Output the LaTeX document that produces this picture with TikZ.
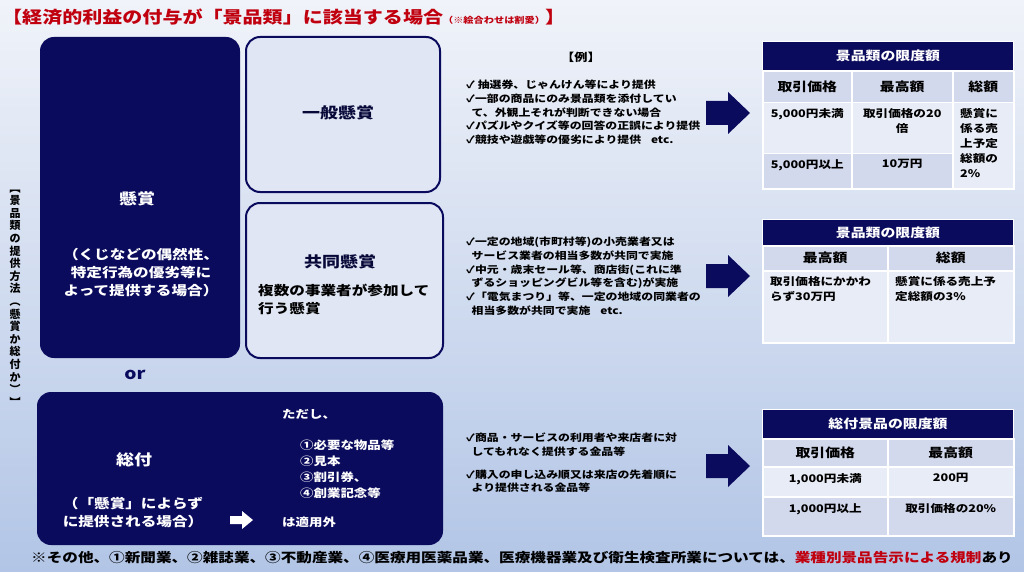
\documentclass[tikz,border=0pt]{standalone}
\usepackage{fontspec}
\setmainfont[FakeStretch=1.2]{Noto Sans CJK JP}
\newfontfamily\uprightcjk{Noto Sans CJK JP}
\definecolor{navy}{HTML}{0B0B5E}
\definecolor{pale}{HTML}{E0E6F3}
\definecolor{cellA}{HTML}{D3D9EC}
\definecolor{cellB}{HTML}{E8ECF6}
\definecolor{bgtop}{HTML}{F0F3F9}
\definecolor{bgbot}{HTML}{B2C5E6}
\definecolor{titlered}{HTML}{C0000F}
\newcommand{\bigarrow}[3][navy]{%
  \fill[#1] (#2-22,#3-12) -- (#2,#3-12) -- (#2,#3-21) -- (#2+22,#3) -- (#2,#3+21) -- (#2,#3+12) -- (#2-22,#3+12) -- cycle;}
\tikzset{
  darkbox/.style={fill=navy, rounded corners=14pt, draw=none},
  palebox/.style={fill=pale, draw=navy, line width=2pt, rounded corners=14pt},
  head/.style={fill=navy, draw=white, line width=1pt, text=white, font=\bfseries\fontsize{12.4}{14}\selectfont, anchor=north west, inner sep=0pt},
  cell/.style={fill=#1, draw=white, line width=1.5pt, anchor=north west, inner sep=0pt},
  cell/.default=cellA,
  txt/.style={font=\bfseries\fontsize{10.5}{15}\selectfont, align=left, anchor=north west, inner sep=0pt},
  list/.style={font=\bfseries\fontsize{9.9}{13.7}\selectfont, align=left, anchor=north west, inner sep=0pt},
  colhead/.style={font=\bfseries\fontsize{12.4}{14}\selectfont}
}
\begin{document}
\begin{tikzpicture}[x=1pt,y=-1pt]
\shade[top color=bgtop, bottom color=bgbot] (0,0) rectangle (1024,572);
\useasboundingbox (0,0) rectangle (1024,572);

% title
\node[anchor=west, text=titlered, font=\bfseries\fontsize{16.7}{20}\selectfont, inner sep=0pt] (title) at (2,17)
  {【経済的利益の付与が「景品類」に該当する場合{\fontsize{8.5}{10}\selectfont（※絵合わせは割愛）}】};

% vertical label
\node[font=\uprightcjk\bfseries\fontsize{11}{12.6}\selectfont, align=center, inner sep=0pt] (side) at (15,298)
  {︻\\景\\品\\類\\の\\提\\供\\方\\法\\︵\\懸\\賞\\か\\総\\付\\か\\︶\\︼};

% left boxes
\draw[darkbox] (40,37) rectangle (240,358);
\node[text=white, font=\bfseries\fontsize{15}{16}\selectfont] (kensho) at (137,199) {懸賞};
\node[text=white, font=\bfseries\fontsize{13}{18}\selectfont, align=center] (kenshoNote) at (141,273)
  {（くじなどの偶然性、\\特定行為の優劣等に\\よって提供する場合）};
\draw[palebox] (246,37) rectangle (440,192);
\node[text=navy!60!black, font=\bfseries\fontsize{15}{16}\selectfont] (ippan) at (338,113) {一般懸賞};
\draw[palebox] (246,203) rectangle (443,358);
\node[text=navy!60!black, font=\bfseries\fontsize{15}{16}\selectfont] (kyodo) at (340,262) {共同懸賞};
\node[font=\bfseries\fontsize{13}{18}\selectfont, align=left, anchor=north west, inner sep=0pt] (kyodoNote) at (258,284)
  {複数の事業者が参加して\\行う懸賞};
\node[text=navy, font=\bfseries\fontsize{16}{16}\selectfont] (or) at (135,375) {or};

\draw[darkbox] (37,392) rectangle (443,545);
\node[text=white, font=\bfseries\fontsize{15}{16}\selectfont] (sotsuke) at (134,460) {総付};
\node[text=white, font=\bfseries\fontsize{13}{18}\selectfont, align=center] (sotsukeNote) at (133,513)
  {（「懸賞」によらず\\に提供される場合）};
\fill[white] (230,516) -- (242,516) -- (242,511) -- (253,520) -- (242,529) -- (242,524) -- (230,524) -- cycle;
\node[text=white, txt, font=\bfseries\fontsize{11.2}{16}\selectfont] (tadashi) at (282,409) {ただし、};
\node[text=white, txt, font=\bfseries\fontsize{11.2}{16}\selectfont] (excl) at (300,440) {①必要な物品等\\②見本\\③割引券、\\④創業記念等};
\node[text=white, txt, font=\bfseries\fontsize{11.2}{16}\selectfont] (tekiyo) at (282,517) {は適用外};

% examples
\node[font=\bfseries\fontsize{11}{12}\selectfont] (rei) at (581,57) {【例】};
\node[list] (ex1) at (466,80) {✓ 抽選券、じゃんけん等により提供\\✓一部の商品にのみ景品類を添付してい\\\ \ て、外観上それが判断できない場合\\✓パズルやクイズ等の回答の正誤により提供\\✓競技や遊戯等の優劣により提供\quad etc.};
\node[list] (ex2) at (466,237) {✓一定の地域(市町村等)の小売業者又は\\\ \ サービス業者の相当多数が共同で実施\\✓中元・歳末セール等、商店街(これに準\\\ \ ずるショッピングビル等を含む)が実施\\✓「電気まつり」等、一定の地域の同業者の\\\ \ 相当多数が共同で実施\quad etc.};
\node[list] (ex3) at (466,433) {✓商品・サービスの利用者や来店者に対\\\ \ してもれなく提供する金品等\\[9pt]✓購入の申し込み順又は来店の先着順に\\\ \ より提供される金品等};

\bigarrow{728}{113}
\bigarrow{728}{276}
\bigarrow{728}{466}

% table 1
\node[head, minimum width=251pt, minimum height=29pt] (h1) at (762,41) {景品類の限度額};
\node[cell, minimum width=89pt, minimum height=31pt, colhead] (a1) at (762,71) {取引価格};
\node[cell, minimum width=101pt, minimum height=31pt, colhead] (b1) at (851,71) {最高額};
\node[cell, minimum width=61pt, minimum height=31pt, colhead] (c1) at (952,71) {総額};
\node[cell=cellB, minimum width=89pt, minimum height=51pt] (a2) at (762,102) {};
\node[cell=cellB, minimum width=101pt, minimum height=51pt] (b2) at (851,102) {};
\node[cell=cellB, minimum width=61pt, minimum height=86pt] (c2) at (952,102) {};
\node[cell, minimum width=89pt, minimum height=35pt] (a3) at (762,153) {};
\node[cell, minimum width=101pt, minimum height=35pt] (b3) at (851,153) {};
\node[txt, anchor=north] at (a2.north) [yshift=-6pt] {5,000円未満};
\node[txt, anchor=north, align=center] at (b2.north) [yshift=-6pt] {取引価格の20\\倍};
\node[txt] at (c2.north west) [xshift=8pt, yshift=-6pt] {懸賞に\\係る売\\上予定\\総額の\\2\%};
\node[txt, anchor=north] at (a3.north) [yshift=-6pt] {5,000円以上};
\node[txt, anchor=north] at (b3.north) [yshift=-6pt] {10万円};

% table 2
\node[head, minimum width=251pt, minimum height=26pt] (h2) at (762,219) {景品類の限度額};
\node[cell, minimum width=125pt, minimum height=25pt, colhead] (d1) at (762,245) {最高額};
\node[cell, minimum width=126pt, minimum height=25pt, colhead] (e1) at (887,245) {総額};
\node[cell=cellB, minimum width=125pt, minimum height=72pt] (d2) at (762,270) {};
\node[cell=cellB, minimum width=126pt, minimum height=72pt] (e2) at (887,270) {};
\node[txt] at (d2.north west) [xshift=8pt, yshift=-6pt] {取引価格にかかわ\\らず30万円};
\node[txt] at (e2.north west) [xshift=8pt, yshift=-6pt] {懸賞に係る売上予\\定総額の3\%};

% table 3
\node[head, minimum width=251pt, minimum height=29pt] (h3) at (762,409) {総付景品の限度額};
\node[cell, minimum width=125pt, minimum height=28pt, colhead] (f1) at (762,438) {取引価格};
\node[cell, minimum width=126pt, minimum height=28pt, colhead] (g1) at (887,438) {最高額};
\node[cell=cellB, minimum width=125pt, minimum height=30pt] (f2) at (762,466) {};
\node[cell=cellB, minimum width=126pt, minimum height=30pt] (g2) at (887,466) {};
\node[cell, minimum width=125pt, minimum height=39pt] (f3) at (762,496) {};
\node[cell, minimum width=126pt, minimum height=39pt] (g3) at (887,496) {};
\node[txt, anchor=north] at (f2.north) [yshift=-7pt] {1,000円未満};
\node[txt, anchor=north] at (g2.north) [yshift=-7pt] {200円};
\node[txt, anchor=north] at (f3.north) [yshift=-7pt] {1,000円以上};
\node[txt, anchor=north] at (g3.north) [yshift=-7pt] {取引価格の20\%};

% footer
\node[font=\bfseries\fontsize{13}{14}\selectfont] (foot) at (522,558)
  {※その他、①新聞業、②雑誌業、③不動産業、④医療用医薬品業、医療機器業及び衛生検査所業については、\textcolor{titlered}{業種別景品告示による規制}あり};
\end{tikzpicture}
\end{document}
